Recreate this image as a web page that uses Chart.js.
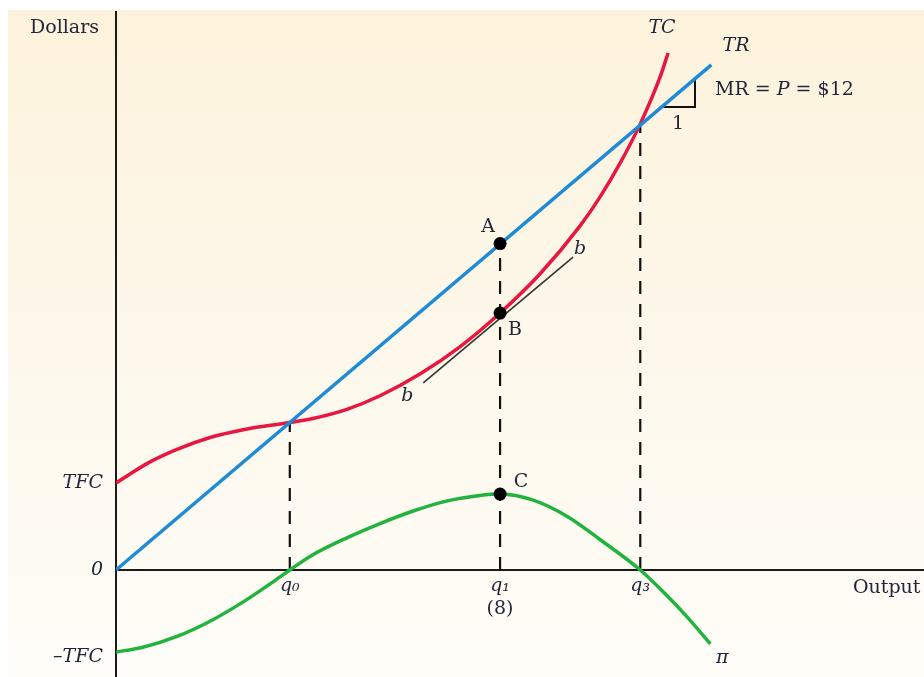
<!DOCTYPE html>
<html>
<head>
<meta charset="utf-8">
<script src="https://cdn.jsdelivr.net/npm/chart.js@4.4.0/dist/chart.umd.min.js"></script>
<style>
  html, body { margin: 0; padding: 0; background: #fff; }
  canvas { display: block; }
</style>
</head>
<body>
<canvas id="chart" width="924" height="677"></canvas>
<script>
// values: output (q) and dollars
const trQ = [0, 12.4];
const trDollars = [0, 149];

const tcQ = [0, 0.71, 1.27, 1.96, 2.65, 3.62, 4.1, 4.81, 5.5, 6.33, 7.17, 8, 8.83, 9.67, 10.08, 10.5, 10.92, 11.33, 11.5];
const tcDollars = [25.7, 31.9, 35.6, 39.1, 41.4, 43.5, 44.7, 47.4, 51.4, 57.8, 65.9, 75.8, 87.3, 101.6, 110.0, 120.0, 131.6, 145.3, 152.5];

const profitQ = [0, 0.56, 1.27, 1.96, 2.65, 3.21, 3.62, 4.1, 4.81, 5.5, 6.19, 6.9, 7.58, 8, 8.69, 9.4, 10.08, 10.92, 11.48, 11.9, 12.38];
const profitDollars = [-24.2, -22.8, -19.6, -15.1, -9.4, -4.1, 0, 4.5, 9.5, 13.7, 17.4, 20.4, 22.0, 22.4, 20.6, 15.8, 9.0, 0, -7.6, -13.9, -21.8];

const tangentQ = [6.4, 9.52];
const tangentDollars = [55.2, 92.3];

const pointQ = [8, 8, 8];
const pointDollars = [96.3, 75.8, 22.4];

const dropQ = [3.62, 8, 10.92];
const dropTop = [43.5, 96.3, 131.2];
const xTickLabels = ["q\u2080", "q\u2081", "q\u2083"];

const yTickValues = [-25.7, 0, 25.7];
const yTickLabels = ["\u2013TFC", "0", "TFC"];

const slopeQ = [11.37, 12.06, 12.06];
const slopeDollars = [136.6, 136.6, 145];

const pts = (xs, ys) => xs.map((x, i) => ({ x: x, y: ys[i] }));

const serif = "'DejaVu Serif', 'Liberation Serif', serif";
const ink = "#23263a";
const fs = 19;

const dropSets = dropQ.map((q, i) => ({
  data: [{ x: q, y: 0 }, { x: q, y: dropTop[i] }],
  borderColor: "#111",
  borderWidth: 2.2,
  borderDash: [13, 10],
  pointRadius: 0,
  order: 6
}));

const noPad = s => { s.paddingTop = 0; s.paddingBottom = 0; s.paddingLeft = 0; s.paddingRight = 0; };

const paperPlugin = {
  id: "paper",
  beforeDraw(chart) {
    const c = chart.ctx;
    c.save();
    c.fillStyle = "#ffffff";
    c.fillRect(0, 0, chart.width, chart.height);
    const g = c.createLinearGradient(0, 10, 0, chart.height);
    g.addColorStop(0, "#fdf3dc");
    g.addColorStop(0.6, "#fef9ee");
    g.addColorStop(1, "#fffdf8");
    c.fillStyle = g;
    c.fillRect(8, 10, chart.width - 8, chart.height - 10);
    c.restore();
  }
};

const labelPlugin = {
  id: "labels",
  afterDraw(chart) {
    const c = chart.ctx;
    const xs = chart.scales.x, ys = chart.scales.y;
    const px = q => xs.getPixelForValue(q);
    const py = d => ys.getPixelForValue(d);
    const put = (text, x, y, style, align) => {
      c.font = (style || "") + " " + fs + "px " + serif;
      c.textAlign = align || "center";
      c.fillText(text, x, y);
    };
    c.save();
    c.fillStyle = ink;
    c.textBaseline = "middle";
    put("Dollars", 30, 28, "", "left");
    put("Output", 853, 588, "", "left");
    put("(8)", px(8), 609, "");
    put("TC", 662, 28, "italic");
    put("TR", 736, 46, "italic");
    // MR = P = $12
    c.textAlign = "left";
    c.font = fs + "px " + serif;
    let x = 715;
    c.fillText("MR = ", x, 90);
    x += c.measureText("MR = ").width;
    c.font = "italic " + fs + "px " + serif;
    c.fillText("P", x, 90);
    x += c.measureText("P").width;
    c.font = fs + "px " + serif;
    c.fillText(" = $12", x, 90);
    put("1", 678, 124, "");
    put("A", px(pointQ[0]) - 12, py(pointDollars[0]) - 16, "");
    put("B", px(pointQ[1]) + 15, py(pointDollars[1]) + 17, "");
    put("C", px(pointQ[2]) + 21, py(pointDollars[2]) - 12, "");
    put("b", px(tangentQ[0]) - 16, py(tangentDollars[0]) + 13, "italic");
    put("b", px(tangentQ[1]) + 7, py(tangentDollars[1]) - 8, "italic");
    put("\u03c0", px(profitQ[profitQ.length - 1]) + 12, py(profitDollars[profitDollars.length - 1]) + 14, "italic");
    c.restore();
  }
};

new Chart(document.getElementById("chart"), {
  type: "line",
  data: {
    datasets: [
      {
        data: pts(pointQ, pointDollars),
        showLine: false,
        pointRadius: 6.5,
        pointBackgroundColor: "#000",
        pointBorderWidth: 0,
        order: 0
      },
      {
        data: pts(trQ, trDollars),
        borderColor: "#1f8bd6",
        borderWidth: 3.5,
        pointRadius: 0,
        order: 2
      },
      {
        data: pts(tcQ, tcDollars),
        borderColor: "#e8173f",
        borderWidth: 3.5,
        pointRadius: 0,
        cubicInterpolationMode: "monotone",
        order: 3
      },
      {
        data: pts(profitQ, profitDollars),
        borderColor: "#22b33c",
        borderWidth: 3.5,
        pointRadius: 0,
        cubicInterpolationMode: "monotone",
        order: 3
      },
      {
        data: pts(tangentQ, tangentDollars),
        borderColor: "#333",
        borderWidth: 1.6,
        pointRadius: 0,
        order: 1
      },
      {
        data: pts(slopeQ, slopeDollars),
        borderColor: "#111",
        borderWidth: 2,
        pointRadius: 0,
        order: 4
      },
      ...dropSets
    ]
  },
  options: {
    responsive: false,
    animation: false,
    layout: { autoPadding: false, padding: { top: 12, right: 0, bottom: 0, left: 0 } },
    plugins: { legend: { display: false }, tooltip: { enabled: false } },
    scales: {
      x: {
        type: "linear",
        min: 0,
        max: 16.83,
        position: { y: 0 },
        grid: { display: false, drawTicks: false },
        border: { display: true, color: "#1a1a1a", width: 2 },
        afterBuildTicks: s => { s.ticks = dropQ.map(v => ({ value: v })); },
        afterFit: noPad,
        ticks: {
          autoSkip: false,
          maxRotation: 0,
          padding: 5,
          color: ink,
          font: { family: serif, size: fs, style: "italic" },
          callback: (v, i) => xTickLabels[i]
        }
      },
      y: {
        type: "linear",
        min: -31.56,
        max: 164.6,
        position: "left",
        grid: { display: false, drawTicks: false },
        border: { display: true, color: "#1a1a1a", width: 2 },
        afterBuildTicks: s => { s.ticks = yTickValues.map(v => ({ value: v })); },
        afterFit: s => { noPad(s); s.width = 116; },
        ticks: {
          padding: 13,
          color: ink,
          font: { family: serif, size: fs, style: "italic" },
          callback: (v, i) => yTickLabels[i]
        }
      }
    }
  },
  plugins: [paperPlugin, labelPlugin]
});
</script>
</body>
</html>
